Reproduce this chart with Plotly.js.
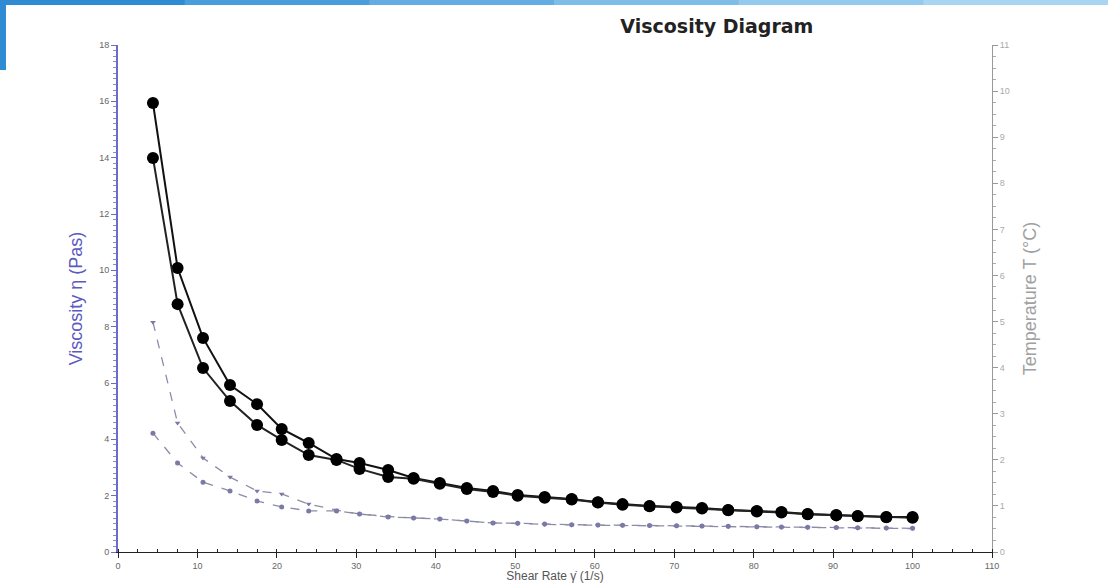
<!DOCTYPE html>
<html>
<head>
<meta charset="utf-8">
<script src="https://cdn.plot.ly/plotly-3.0.1.min.js"></script>
<style>html,body{margin:0;padding:0;background:#fff;}#chart{width:1108px;height:583px;}</style>
</head>
<body>
<div id="chart"></div>
<script>
// Shear rate values (1/s)
const shearRate = [4.4, 7.5, 10.7, 14.1, 17.5, 20.6, 24.0, 27.5, 30.4, 34.0, 37.2, 40.5, 43.9, 47.2, 50.3, 53.7, 57.1, 60.4, 63.5, 66.9, 70.3, 73.5, 76.8, 80.4, 83.5, 86.8, 90.4, 93.1, 96.7, 100.0];
// Viscosity series (Pas)
const viscA = [15.94, 10.08, 7.60, 5.93, 5.25, 4.37, 3.87, 3.30, 3.16, 2.91, 2.63, 2.45, 2.27, 2.17, 2.02, 1.95, 1.88, 1.77, 1.70, 1.63, 1.60, 1.56, 1.49, 1.46, 1.42, 1.35, 1.31, 1.28, 1.24, 1.24];
const viscB = [13.99, 8.80, 6.53, 5.36, 4.51, 3.98, 3.44, 3.27, 2.95, 2.66, 2.60, 2.42, 2.24, 2.13, 2.00, 1.93, 1.86, 1.76, 1.68, 1.62, 1.58, 1.54, 1.48, 1.44, 1.40, 1.34, 1.30, 1.27, 1.23, 1.22];
const viscC = [8.16, 4.58, 3.34, 2.66, 2.17, 2.06, 1.70, 1.49, 1.35, 1.26, 1.21, 1.17, 1.10, 1.03, 1.01, 0.98, 0.96, 0.95, 0.94, 0.93, 0.92, 0.91, 0.90, 0.89, 0.88, 0.87, 0.86, 0.85, 0.84, 0.83];
const viscD = [4.22, 3.16, 2.48, 2.17, 1.81, 1.60, 1.46, 1.46, 1.35, 1.24, 1.21, 1.17, 1.10, 1.03, 1.02, 0.99, 0.97, 0.96, 0.95, 0.94, 0.93, 0.92, 0.91, 0.90, 0.89, 0.88, 0.87, 0.86, 0.85, 0.84];
// Axis ticks
const xTicks = [0, 10, 20, 30, 40, 50, 60, 70, 80, 90, 100, 110];
const yTicks = [0, 2, 4, 6, 8, 10, 12, 14, 16, 18];
const y2Ticks = [0, 1, 2, 3, 4, 5, 6, 7, 8, 9, 10, 11];

const traces = [
  {x: shearRate, y: viscA, type: 'scatter', mode: 'lines+markers',
   line: {color: '#111', width: 2}, marker: {color: '#000', size: 12, symbol: 'circle'}},
  {x: shearRate, y: viscB, type: 'scatter', mode: 'lines+markers',
   line: {color: '#222', width: 2}, marker: {color: '#000', size: 12, symbol: 'circle'}},
  {x: shearRate, y: viscC, type: 'scatter', mode: 'lines+markers',
   line: {color: '#8c8ca8', width: 1.3, dash: 'dash'}, marker: {color: '#7a7aa6', size: 5, symbol: 'triangle-down'}},
  {x: shearRate, y: viscD, type: 'scatter', mode: 'lines+markers',
   line: {color: '#8c8ca8', width: 1.3, dash: 'dash'}, marker: {color: '#7a7aa6', size: 5, symbol: 'circle'}},
  {x: [], y: [], yaxis: 'y2', type: 'scatter', mode: 'lines', hoverinfo: 'skip'}
];

function px2paperX(px) { return (px - 118) / 874; }
function px2paperY(py) { return (552 - py) / 507; }

const barColors = ['#2f8bd2', '#4a9ddb', '#63ade2', '#7dbde8', '#94caee', '#a9d5f2'];
const shapes = [];
for (let i = 0; i < barColors.length; i++) {
  shapes.push({type: 'rect', xref: 'paper', yref: 'paper', layer: 'above',
    x0: px2paperX(i * 1108 / barColors.length), x1: px2paperX((i + 1) * 1108 / barColors.length + 1),
    y0: px2paperY(5), y1: px2paperY(0), fillcolor: barColors[i], line: {width: 0}});
}
shapes.push({type: 'rect', xref: 'paper', yref: 'paper', layer: 'above',
  x0: px2paperX(0), x1: px2paperX(6), y0: px2paperY(70), y1: px2paperY(0),
  fillcolor: '#2f8bd2', line: {width: 0}});

const layout = {
  width: 1108, height: 583,
  margin: {l: 118, r: 116, t: 45, b: 31},
  paper_bgcolor: '#fff', plot_bgcolor: '#fff',
  showlegend: false,
  font: {family: 'Liberation Sans, Arial, sans-serif', color: '#555', size: 9},
  title: {text: '<b>Viscosity Diagram</b>', font: {size: 19, color: '#222', family: 'DejaVu Sans, Verdana, sans-serif'},
          xref: 'container', yref: 'container', x: 0.647, y: 0.954, xanchor: 'center', yanchor: 'middle'},
  xaxis: {range: [0, 110], tickvals: xTicks, showgrid: false, zeroline: false,
          showline: true, linecolor: '#222', linewidth: 1,
          ticks: 'outside', ticklen: 5, tickcolor: '#222',
          minor: {dtick: 2.5, ticks: 'inside', ticklen: 3, tickcolor: '#222'},
          tickfont: {size: 9, color: '#666'},
          title: {text: 'Shear Rate γ̇ (1/s)', font: {size: 12, color: '#555'}, standoff: 1}},
  yaxis: {range: [0, 18], tickvals: yTicks, showgrid: false, zeroline: false,
          showline: true, linecolor: '#6b6bc8', linewidth: 2,
          ticks: 'outside', ticklen: 5, tickcolor: '#6b6bc8',
          minor: {dtick: 0.2, ticks: 'outside', ticklen: 3, tickcolor: '#8a8ad8'},
          tickfont: {size: 9, color: '#666'},
          title: {text: 'Viscosity η (Pas)', font: {size: 18, color: '#5a5ac0'}, standoff: 12}},
  yaxis2: {range: [0, 11], tickvals: y2Ticks, overlaying: 'y', side: 'right', showgrid: false, zeroline: false,
          showline: true, linecolor: '#999', linewidth: 1,
          ticks: 'outside', ticklen: 5, tickcolor: '#999',
          minor: {dtick: 0.25, ticks: 'outside', ticklen: 3, tickcolor: '#aaa'},
          tickfont: {size: 9, color: '#aaa'},
          title: {text: 'Temperature T (°C)', font: {size: 18, color: '#a0a0a0'}, standoff: 14}},
  shapes: shapes
};

Plotly.newPlot('chart', traces, layout, {displayModeBar: false, staticPlot: true});
</script>
</body>
</html>
